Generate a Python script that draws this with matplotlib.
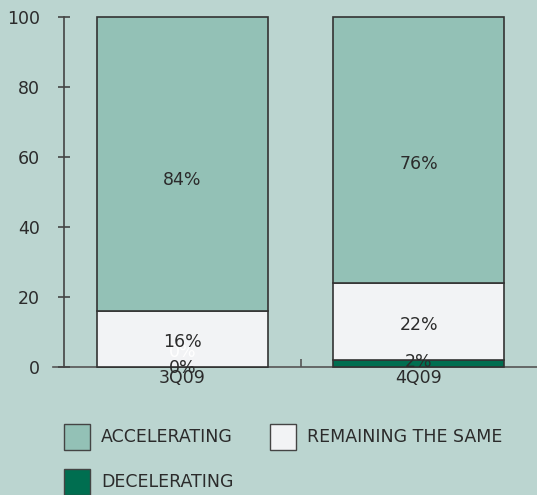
import matplotlib.pyplot as plt
from matplotlib.patches import Rectangle
import numpy as np

# survey shares per quarter (percent)
quarters = ['3Q09', '4Q09']
decelerating = [0, 2]
remaining = [16, 22]
accelerating = [84, 76]

series_names = ['DECELERATING', 'REMAINING THE SAME', 'ACCELERATING']
series_colors = ['#006e50', '#f2f3f5', '#93c1b6']
yticks = [0, 20, 40, 60, 80, 100]

bg = '#bbd5d0'
ink = '#2b2b2b'
edge = '#333333'

fig = plt.figure(figsize=(5.37, 4.95), dpi=100, facecolor=bg)
ax = fig.add_axes([64/537, 1-366.7/495, 473/537, 350/495])
ax.set_facecolor(bg)

x = np.arange(len(quarters))
w = 0.723
bottom = np.zeros(len(quarters))
for vals, color in zip([decelerating, remaining, accelerating], series_colors):
    vals = np.array(vals, dtype=float)
    ax.bar(x, vals, w, bottom=bottom, color=color, edgecolor=edge,
           linewidth=1.2, clip_on=False, zorder=2)
    # value labels sit a bit below the middle of each segment
    for xi, b, v in zip(x, bottom, vals):
        if v == 0:
            ax.text(xi, b + 4.2, '%d%%' % v, ha='center', va='center',
                    fontsize=12.5, color='white', zorder=3)
            ax.text(xi, b - 0.4, '%d%%' % v, ha='center', va='center',
                    fontsize=12.5, color=ink, zorder=4)
        elif v < 5:
            ax.text(xi, b + v/2 + 0.3, '%d%%' % v, ha='center', va='center',
                    fontsize=12.5, color=ink, zorder=4)
        else:
            ax.text(xi, b + v*0.445, '%d%%' % v, ha='center', va='center',
                    fontsize=12.5, color=ink, zorder=4)
    bottom += vals

ax.set_xlim(-0.5, 1.5)
ax.set_ylim(0, 100)
ax.set_yticks(yticks)
ax.set_xticks(x)
ax.set_xticklabels(quarters)
ax.set_xticks([0.5], minor=True)

for s in ['top', 'right', 'bottom']:
    ax.spines[s].set_visible(False)
ax.spines['left'].set_color('#444444')
ax.spines['left'].set_linewidth(1.2)
ax.axhline(0, xmin=-11/473, xmax=1, color='#555555', lw=1.2, clip_on=False, zorder=1)

ax.tick_params(axis='y', direction='inout', length=8.6, width=1.2, color='#444444',
               labelsize=12.5, labelcolor=ink, pad=13)
ax.tick_params(axis='x', which='major', length=0, labelsize=12.5, labelcolor=ink, pad=2)
ax.tick_params(axis='x', which='minor', direction='in', length=5.8, width=1.2,
               color='#555555')

# legend drawn as swatches in figure pixels
W, H = 537, 495
legend_items = [('ACCELERATING', series_colors[2], 64, 424),
                ('REMAINING THE SAME', series_colors[1], 270, 424),
                ('DECELERATING', series_colors[0], 64, 469)]
for name, color, px, py in legend_items:
    fig.add_artist(Rectangle((px/W, 1-(py+26)/H), 26/W, 26/H, facecolor=color,
                             edgecolor='#444444', lw=1.0, transform=fig.transFigure))
    fig.text((px+37)/W, 1-(py+13)/H, name, ha='left', va='center',
             fontsize=12.5, color=ink)

fig.savefig('out.png', dpi=100, facecolor=bg)
